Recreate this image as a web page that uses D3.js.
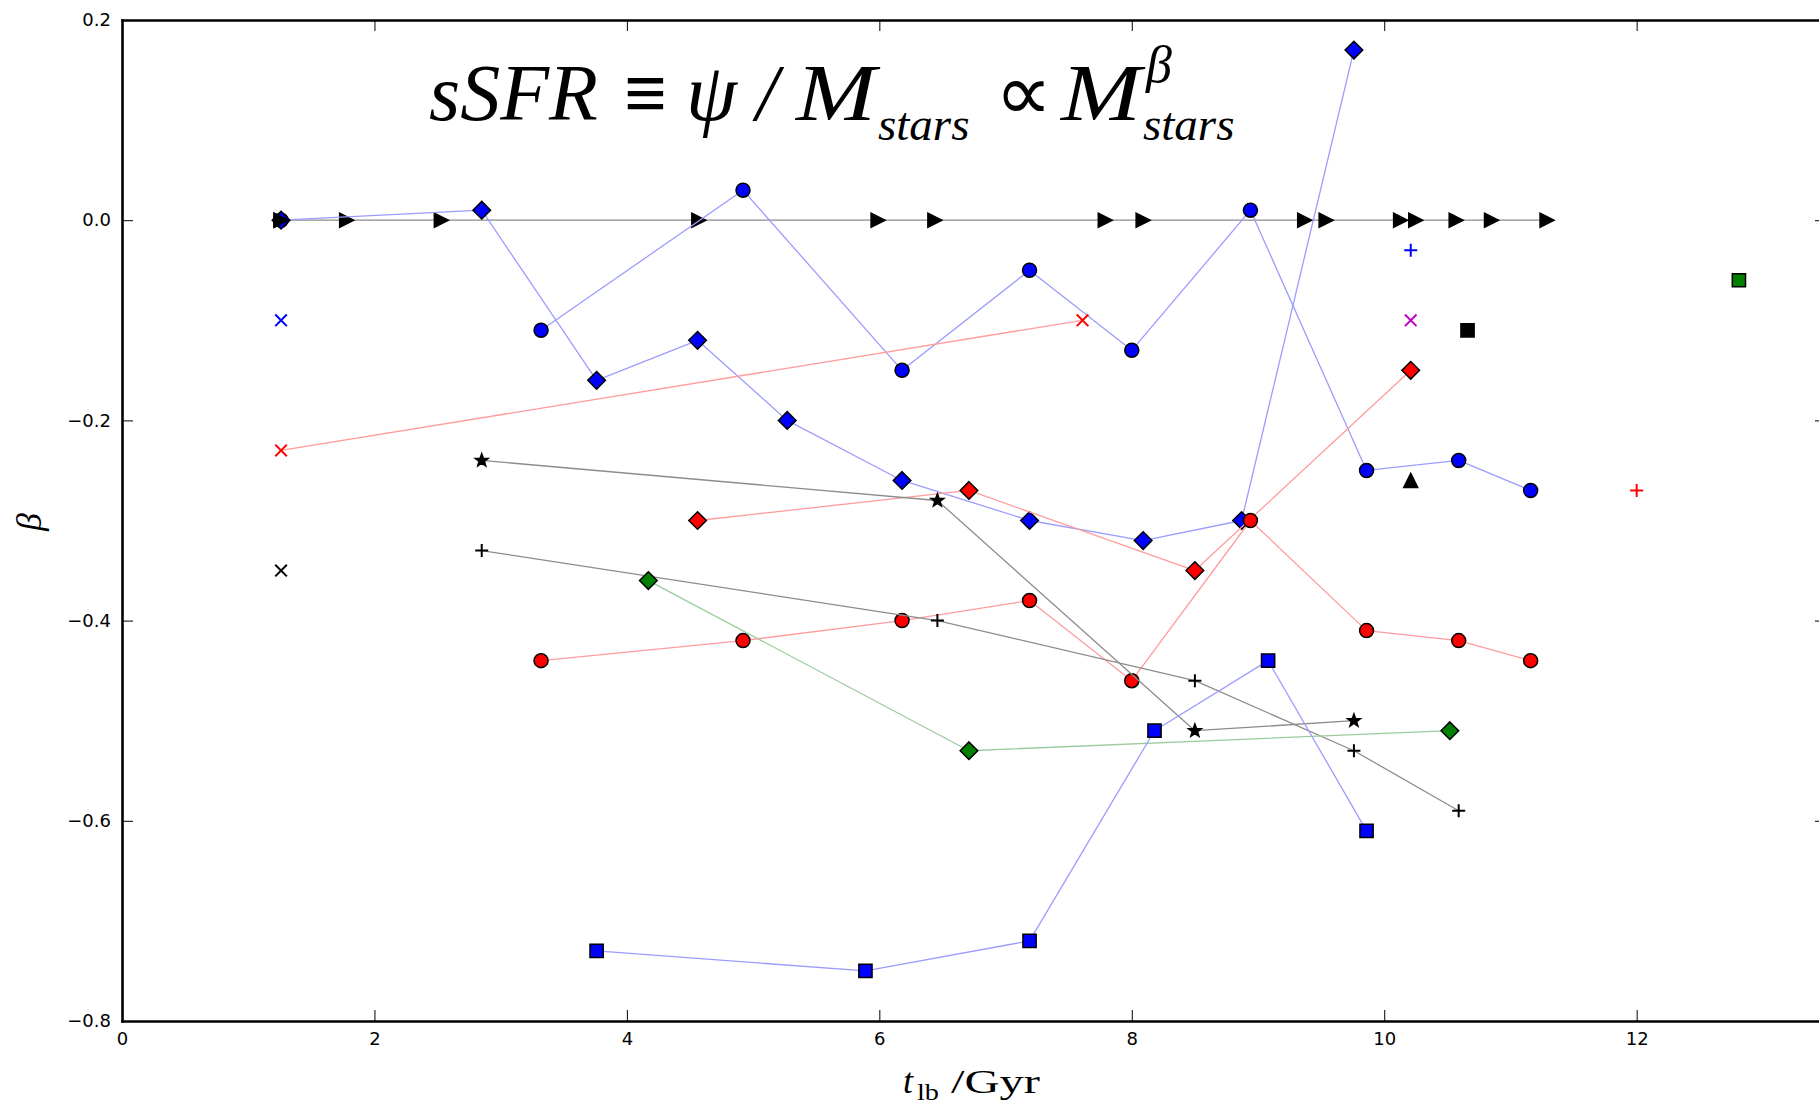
<!DOCTYPE html>
<html>
<head>
<meta charset="utf-8">
<script src="https://cdn.jsdelivr.net/npm/d3@7"></script>
<style>
  html, body { margin: 0; padding: 0; background: #fff; }
  svg { display: block; }
  .tick text { font-family: "DejaVu Sans", sans-serif; font-size: 18px; fill: #000; }
</style>
</head>
<body>
<svg id="chart" width="1819" height="1105"></svg>
<script>
// ---- data: lookback time (Gyr) and mass-slope beta ----
const triRightX = [1.26, 1.78, 2.53, 4.57, 5.99, 6.44, 7.79, 8.09, 9.37, 9.54, 10.13, 10.25, 10.57, 10.85, 11.29];
const triRightY = [0, 0, 0, 0, 0, 0, 0, 0, 0, 0, 0, 0, 0, 0, 0];

const blueDiamondX = [1.26, 2.85, 3.76, 4.56, 5.27, 6.18, 7.19, 8.09, 8.87, 9.76];
const blueDiamondY = [0.00, 0.01, -0.16, -0.12, -0.20, -0.26, -0.30, -0.32, -0.30, 0.17];

const blueCircleX = [3.32, 4.92, 6.18, 7.19, 8.00, 8.94, 9.86, 10.59, 11.16];
const blueCircleY = [-0.11, 0.03, -0.15, -0.05, -0.13, 0.01, -0.25, -0.24, -0.27];

const blueSquareX = [3.76, 5.89, 7.19, 8.18, 9.08, 9.86];
const blueSquareY = [-0.73, -0.75, -0.72, -0.51, -0.44, -0.61];

const redCrossX = [1.26, 7.61];
const redCrossY = [-0.23, -0.10];

const redDiamondX = [4.56, 6.71, 8.50, 10.21];
const redDiamondY = [-0.30, -0.27, -0.35, -0.15];

const redCircleX = [3.32, 4.92, 6.18, 7.19, 8.00, 8.94, 9.86, 10.59, 11.16];
const redCircleY = [-0.44, -0.42, -0.40, -0.38, -0.46, -0.30, -0.41, -0.42, -0.44];

const blackStarX = [2.85, 6.46, 8.50, 9.76];
const blackStarY = [-0.24, -0.28, -0.51, -0.50];

const blackPlusX = [2.85, 6.46, 8.50, 9.76, 10.59];
const blackPlusY = [-0.33, -0.40, -0.46, -0.53, -0.59];

const greenDiamondX = [4.17, 6.71, 10.52];
const greenDiamondY = [-0.36, -0.53, -0.51];

// single measurements: [x, y]
const blackCircleOne = [1.26, 0.00];
const blueCrossOne = [1.26, -0.10];
const blackCrossOne = [1.26, -0.35];
const bluePlusOne = [10.21, -0.03];
const magentaCrossOne = [10.21, -0.10];
const blackSquareOne = [10.66, -0.11];
const greenSquareOne = [12.81, -0.06];
const blackTriUpOne = [10.21, -0.26];
const redPlusOne = [12.00, -0.27];

const xTicks = [0, 2, 4, 6, 8, 10, 12];
const yTicks = [0.2, 0.0, -0.2, -0.4, -0.6, -0.8];

// ---- layout ----
const svg = d3.select("#chart");
const X0 = 122, X1 = 1826, Y0 = 20, Y1 = 1021;
const x = d3.scaleLinear().domain([0, 13.5]).range([X0, X1]);
const y = d3.scaleLinear().domain([-0.8, 0.2]).range([Y1, Y0]);

svg.append("rect").attr("width", 1819).attr("height", 1105).attr("fill", "#fff");

svg.append("defs").append("clipPath").attr("id", "plotClip")
  .append("rect").attr("x", X0).attr("y", Y0).attr("width", X1 - X0).attr("height", Y1 - Y0);

const plot = svg.append("g").attr("clip-path", "url(#plotClip)");

// marker shapes (pixel units)
const shapes = {
  circle: "M0,-7A7,7 0 1,1 0,7A7,7 0 1,1 0,-7Z",
  diamond: "M0,-8.8L8.8,0L0,8.8L-8.8,0Z",
  square: "M-6.6,-6.6H6.6V6.6H-6.6Z",
  triRight: "M-7,-7L7,0L-7,7Z",
  triUp: "M0,-7L7,7L-7,7Z",
  cross: "M-5.8,-5.8L5.8,5.8M-5.8,5.8L5.8,-5.8",
  plus: "M-6.5,0H6.5M0,-6.5V6.5",
  star: (() => {
    const pts = [];
    for (let i = 0; i < 10; i++) {
      const r = i % 2 === 0 ? 6.8 : 2.8;
      const a = -Math.PI / 2 + i * Math.PI / 5;
      pts.push([r * Math.cos(a), r * Math.sin(a)]);
    }
    return "M" + pts.map(p => p[0].toFixed(2) + "," + p[1].toFixed(2)).join("L") + "Z";
  })()
};

const line = d3.line().x(d => x(d[0])).y(d => y(d[1]));

function drawSeries(xs, ys, opt) {
  const pts = xs.map((v, i) => [v, ys[i]]);
  const g = plot.append("g");
  if (opt.lineColor && pts.length > 1) {
    g.append("path").datum(pts).attr("d", line)
      .attr("fill", "none").attr("stroke", opt.lineColor)
      .attr("stroke-width", 1.3).attr("stroke-linejoin", "round");
  }
  const open = opt.shape === "cross" || opt.shape === "plus";
  g.selectAll("path.mk").data(pts).join("path").attr("class", "mk")
    .attr("transform", d => `translate(${x(d[0])},${y(d[1])})`)
    .attr("d", shapes[opt.shape])
    .attr("fill", open ? "none" : opt.fill)
    .attr("stroke", open ? opt.fill : (opt.edge || "#000"))
    .attr("stroke-width", open ? 2 : 1.5)
    .attr("stroke-linejoin", "miter");
}

const BLUE = "#0000ff", RED = "#ff0000", GREEN = "#007f00", BLACK = "#000000", MAGENTA = "#bf00bf";
const BLUE_L = "#9c9cff", RED_L = "#ff9c9c", GRAY_L = "#8c8c8c", GREEN_L = "#9dcb9d";

drawSeries([blackCircleOne[0]], [blackCircleOne[1]], { shape: "circle", fill: BLACK });
drawSeries(triRightX, triRightY, { shape: "triRight", fill: BLACK, lineColor: GRAY_L });
drawSeries(blueDiamondX, blueDiamondY, { shape: "diamond", fill: BLUE, lineColor: BLUE_L });
drawSeries(blueCircleX, blueCircleY, { shape: "circle", fill: BLUE, lineColor: BLUE_L });
drawSeries(redCrossX, redCrossY, { shape: "cross", fill: RED, lineColor: RED_L });
drawSeries(redDiamondX, redDiamondY, { shape: "diamond", fill: RED, lineColor: RED_L });
drawSeries(redCircleX, redCircleY, { shape: "circle", fill: RED, lineColor: RED_L });
drawSeries(blackStarX, blackStarY, { shape: "star", fill: BLACK, lineColor: GRAY_L });
drawSeries(blackPlusX, blackPlusY, { shape: "plus", fill: BLACK, lineColor: GRAY_L });
drawSeries(greenDiamondX, greenDiamondY, { shape: "diamond", fill: GREEN, lineColor: GREEN_L });
drawSeries(blueSquareX, blueSquareY, { shape: "square", fill: BLUE, lineColor: BLUE_L });
drawSeries([triRightX[0]], [triRightY[0]], { shape: "triRight", fill: BLACK });

drawSeries([blueCrossOne[0]], [blueCrossOne[1]], { shape: "cross", fill: BLUE });
drawSeries([blackCrossOne[0]], [blackCrossOne[1]], { shape: "cross", fill: BLACK });
drawSeries([bluePlusOne[0]], [bluePlusOne[1]], { shape: "plus", fill: BLUE });
drawSeries([magentaCrossOne[0]], [magentaCrossOne[1]], { shape: "cross", fill: MAGENTA });
drawSeries([blackSquareOne[0]], [blackSquareOne[1]], { shape: "square", fill: BLACK });
drawSeries([greenSquareOne[0]], [greenSquareOne[1]], { shape: "square", fill: GREEN });
drawSeries([blackTriUpOne[0]], [blackTriUpOne[1]], { shape: "triUp", fill: BLACK });
drawSeries([redPlusOne[0]], [redPlusOne[1]], { shape: "plus", fill: RED });

// ---- axes: inward ticks on all four sides ----
const TICK = 11;
const fmt = d3.format(".1f");

function styleAxis(g) {
  g.select(".domain").attr("stroke", "#000").attr("stroke-width", 2.6);
  g.selectAll(".tick line").attr("stroke", "#000").attr("stroke-width", 1);
}

svg.append("g").attr("transform", `translate(0,${Y1})`)
  .call(d3.axisBottom(x).tickValues(xTicks).tickFormat(d3.format("d"))
    .tickSizeInner(-TICK).tickSizeOuter(0).tickPadding(11))
  .call(styleAxis);

svg.append("g").attr("transform", `translate(0,${Y0})`)
  .call(d3.axisTop(x).tickValues(xTicks).tickFormat("")
    .tickSizeInner(-TICK).tickSizeOuter(0))
  .call(styleAxis);

svg.append("g").attr("transform", `translate(${X0},0)`)
  .call(d3.axisLeft(y).tickValues(yTicks).tickFormat(fmt)
    .tickSizeInner(-TICK).tickSizeOuter(0).tickPadding(11))
  .call(styleAxis);

svg.append("g").attr("transform", `translate(${X1},0)`)
  .call(d3.axisRight(y).tickValues(yTicks).tickFormat("")
    .tickSizeInner(-TICK).tickSizeOuter(0))
  .call(styleAxis);

svg.selectAll("path.domain").attr("stroke-linecap", "square");

// ---- axis titles ----
const serif = "'Liberation Serif', 'Times New Roman', serif";

const xTitle = svg.append("g").attr("font-family", serif).attr("fill", "#000");
xTitle.append("text").attr("x", 903).attr("y", 1093)
  .attr("font-size", 36).attr("font-style", "italic").text("t");
xTitle.append("text").attr("x", 917).attr("y", 1100)
  .attr("font-size", 24).attr("textLength", 22).attr("lengthAdjust", "spacingAndGlyphs").text("lb");
xTitle.append("text").attr("x", 951).attr("y", 1093)
  .attr("font-size", 33).attr("textLength", 89).attr("lengthAdjust", "spacingAndGlyphs").text("/Gyr");

svg.append("text")
  .attr("transform", "translate(41,522) rotate(-90)")
  .attr("text-anchor", "middle")
  .attr("font-family", serif).attr("font-style", "italic")
  .attr("font-size", 36).attr("fill", "#000")
  .text("β");

// ---- in-panel relation ----
const eq = svg.append("g").attr("font-family", serif).attr("fill", "#000");
const eqParts = [
  { t: "sSFR", x: 429, y: 120, s: 80, it: true },
  { t: "≡", x: 624, y: 119, s: 76, it: false, w: "bold" },
  { t: "ψ", x: 686, y: 120, s: 82, it: true },
  { t: "/", x: 756, y: 120, s: 80, it: true },
  { t: "M", x: 796, y: 120, s: 80, it: true, len: 80 },
  { t: "stars", x: 878, y: 140, s: 47, it: true },
  { t: "∝", x: 995, y: 120, s: 80, it: false },
  { t: "M", x: 1061, y: 120, s: 80, it: true, len: 80 },
  { t: "β", x: 1146, y: 82, s: 52, it: true },
  { t: "stars", x: 1143, y: 140, s: 47, it: true }
];
eqParts.forEach(p => {
  const t = eq.append("text").attr("x", p.x).attr("y", p.y)
    .attr("font-size", p.s)
    .attr("font-style", p.it ? "italic" : "normal")
    .attr("font-weight", p.w || "normal")
    .text(p.t);
  if (p.len) t.attr("textLength", p.len).attr("lengthAdjust", "spacingAndGlyphs");
});
</script>
</body>
</html>
